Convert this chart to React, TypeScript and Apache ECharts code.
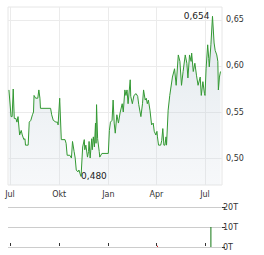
import React, { useEffect, useRef } from "react";
import * as echarts from "echarts";

const dates: string[] = [
  "2024-06-29","2024-07-03","2024-07-05","2024-07-07","2024-07-09","2024-07-12","2024-07-14","2024-07-16",
  "2024-07-19","2024-07-22","2024-07-24","2024-07-27","2024-07-29","2024-07-30","2024-08-04","2024-08-06",
  "2024-08-09","2024-08-12","2024-08-14","2024-08-15","2024-08-18","2024-08-22","2024-08-24","2024-08-26",
  "2024-08-27","2024-09-15","2024-09-17","2024-09-20","2024-09-25","2024-09-28","2024-09-29","2024-10-02",
  "2024-10-05","2024-10-12","2024-10-14","2024-10-16","2024-10-21","2024-10-24","2024-10-26","2024-10-29",
  "2024-10-31","2024-11-02","2024-11-05","2024-11-07","2024-11-09","2024-11-11","2024-11-14","2024-11-17",
  "2024-11-18","2024-11-20","2024-11-23","2024-11-25","2024-11-26","2024-11-28","2024-12-01","2024-12-02",
  "2024-12-04","2024-12-06","2024-12-08","2024-12-09","2024-12-10","2024-12-12","2024-12-15","2024-12-16",
  "2024-12-20","2025-01-01","2025-01-03","2025-01-05","2025-01-08","2025-01-10","2025-01-12","2025-01-14",
  "2025-01-17","2025-01-20","2025-01-23","2025-01-24","2025-01-27","2025-01-29","2025-02-01","2025-02-03",
  "2025-02-05","2025-02-07","2025-02-11","2025-02-12","2025-02-15","2025-02-18","2025-02-22","2025-02-25",
  "2025-02-27","2025-03-03","2025-03-06","2025-03-08","2025-03-11","2025-03-13","2025-03-15","2025-03-17",
  "2025-03-20","2025-03-23","2025-03-26","2025-03-28","2025-03-31","2025-04-02","2025-04-03","2025-04-05",
  "2025-04-09","2025-04-11","2025-04-13","2025-04-15","2025-04-17","2025-04-19","2025-04-20","2025-04-23",
  "2025-04-26","2025-05-01","2025-05-05","2025-05-08","2025-05-12","2025-05-15","2025-05-18","2025-05-21",
  "2025-05-25","2025-05-28","2025-05-30","2025-06-02","2025-06-05","2025-06-06","2025-06-09","2025-06-12",
  "2025-06-15","2025-06-18","2025-06-22","2025-06-24","2025-06-27","2025-06-30","2025-07-01","2025-07-03",
  "2025-07-06","2025-07-08","2025-07-09","2025-07-12","2025-07-15","2025-07-18","2025-07-20","2025-07-23",
  "2025-07-25","2025-07-26","2025-07-28","2025-07-30"
];

const prices: number[] = [
  0.574,0.545,0.545,0.575,0.543,0.543,0.539,0.545,
  0.525,0.530,0.525,0.520,0.521,0.514,0.514,0.539,
  0.541,0.547,0.550,0.568,0.565,0.565,0.574,0.565,
  0.554,0.554,0.547,0.541,0.539,0.539,0.536,0.565,
  0.520,0.520,0.516,0.503,0.503,0.500,0.518,0.507,
  0.500,0.487,0.485,0.487,0.483,0.480,0.512,0.520,
  0.509,0.514,0.501,0.507,0.518,0.500,0.521,0.509,
  0.523,0.512,0.538,0.516,0.558,0.521,0.507,0.501,
  0.505,0.505,0.530,0.539,0.541,0.563,0.538,0.527,
  0.547,0.538,0.549,0.549,0.559,0.550,0.574,0.568,
  0.574,0.559,0.585,0.567,0.559,0.568,0.570,0.567,
  0.558,0.545,0.559,0.574,0.563,0.565,0.559,0.563,
  0.552,0.536,0.538,0.529,0.525,0.529,0.523,0.514,
  0.514,0.519,0.532,0.514,0.514,0.523,0.514,0.552,
  0.568,0.588,0.597,0.579,0.612,0.605,0.579,0.594,
  0.612,0.603,0.587,0.612,0.605,0.614,0.594,0.603,
  0.590,0.579,0.588,0.568,0.583,0.570,0.568,0.597,
  0.623,0.608,0.599,0.623,0.654,0.625,0.617,0.612,
  0.605,0.574,0.588,0.594
];

const volumeDates: string[] = ["2025-04-03", "2025-07-12"];
const volumeValues: number[] = [600, 10000];
const volumeUp: boolean[] = [false, true];

const monthTicks: string[] = ["2024-07-01", "2024-10-01", "2025-01-01", "2025-04-01", "2025-07-01"];
const priceTicks: number[] = [0.5, 0.55, 0.6, 0.65];
const volumeTicks: number[] = [0, 10000, 20000];
const monthNames: string[] = ["Jan","Feb","Mär","Apr","Mai","Jun","Jul","Aug","Sep","Okt","Nov","Dez"];

const X_MIN = "2024-06-27 06:00";
const X_MAX = "2025-08-01 19:00";
const Y_MIN = 0.4707;
const Y_MAX = 0.6641;

const FONT = "DejaVu Sans";

function ts(s: string): number {
  const [d, t] = s.split(" ");
  const [y, m, dd] = d.split("-").map(Number);
  let h = 0;
  if (t) h = Number(t.split(":")[0]);
  return new Date(y, m - 1, dd, h).getTime();
}

export default function App() {
  const ref = useRef<HTMLDivElement>(null);
  useEffect(() => {
    if (!ref.current) return;
    const chart = echarts.init(ref.current, undefined, { renderer: "svg" });
    const monthVals = monthTicks.map(ts);
    const fmtMonth = (v: number) => monthNames[new Date(v).getMonth()];
    const fmt3 = (p: any) => {
      const v = Array.isArray(p.value) ? p.value[1] : p.value;
      return Number(v).toFixed(3).replace(".", ",");
    };
    chart.setOption({
      animation: false,
      backgroundColor: "#ffffff",
      grid: [
        { left: 8, top: 7, width: 214, height: 178, show: true, borderColor: "#e6e6e6", borderWidth: 1, backgroundColor: "transparent" },
        { left: 8, top: 207, width: 214, height: 40 }
      ],
      xAxis: [
        {
          type: "value",
          gridIndex: 0,
          min: ts(X_MIN),
          max: ts(X_MAX),
          axisLine: { show: false },
          axisTick: { show: false, customValues: monthVals },
          axisLabel: {
            customValues: monthVals,
            formatter: fmtMonth,
            fontFamily: FONT,
            fontSize: 8,
            color: "#333",
            margin: 5
          },
          splitLine: { show: true, lineStyle: { color: "#ebebeb", width: 1 } }
        },
        {
          type: "value",
          gridIndex: 1,
          position: "top",
          offset: -1,
          min: ts(X_MIN),
          max: ts(X_MAX),
          axisLine: { show: false },
          axisTick: { show: true, length: 3, customValues: monthVals, lineStyle: { color: "#333", width: 1 } },
          axisLabel: { show: false, customValues: monthVals },
          splitLine: { show: false }
        }
      ],
      yAxis: [
        {
          type: "value",
          gridIndex: 0,
          position: "right",
          min: Y_MIN,
          max: Y_MAX,
          axisLine: { show: false },
          axisTick: { show: false, customValues: priceTicks },
          axisLabel: {
            customValues: priceTicks,
            formatter: (v: number) => v.toFixed(2).replace(".", ","),
            fontFamily: FONT,
            fontSize: 8,
            color: "#333",
            margin: 4
          },
          splitLine: { show: true, lineStyle: { color: "#ebebeb", width: 1 } }
        },
        {
          type: "value",
          gridIndex: 1,
          position: "right",
          min: 0,
          max: 20000,
          axisLine: { show: false },
          axisTick: { show: true, length: 3, customValues: volumeTicks, lineStyle: { color: "#333", width: 1 } },
          axisLabel: {
            customValues: volumeTicks,
            formatter: (v: number) => Math.round(v / 1000) + "T",
            fontFamily: FONT,
            fontSize: 8,
            color: "#333",
            margin: 1
          },
          splitLine: { show: true, lineStyle: { color: "#cccccc", width: 1 } }
        }
      ],
      series: [
        {
          type: "line",
          xAxisIndex: 0,
          yAxisIndex: 0,
          data: dates.map((d, i) => [ts(d), prices[i]]),
          showSymbol: false,
          symbol: "none",
          lineStyle: { color: "#339933", width: 1 },
          areaStyle: {
            color: new echarts.graphic.LinearGradient(0, 0, 0, 1, [
              { offset: 0, color: "rgba(175,192,205,0.55)" },
              { offset: 1, color: "rgba(205,215,225,0.25)" }
            ])
          },
          markPoint: {
            symbol: "circle",
            symbolSize: 0,
            silent: true,
            data: [
              {
                type: "max",
                valueDim: "y",
                label: { show: true, position: "left", distance: 3, formatter: fmt3, fontFamily: FONT, fontSize: 9, color: "#222" }
              },
              {
                type: "min",
                valueDim: "y",
                label: { show: true, position: "right", distance: 0, formatter: fmt3, fontFamily: FONT, fontSize: 9, color: "#222" }
              }
            ]
          }
        },
        {
          type: "bar",
          xAxisIndex: 1,
          yAxisIndex: 1,
          barWidth: 1,
          data: volumeDates.map((d, i) => ({
            value: [ts(d), volumeValues[i]],
            itemStyle: { color: volumeUp[i] ? "#117711" : "#cc2222" }
          }))
        }
      ]
    });
    return () => chart.dispose();
  }, []);
  return (
    <div
      ref={ref}
      style={{ position: "absolute", left: 0, top: 0, width: 264, height: 255 }}
    />
  );
}
